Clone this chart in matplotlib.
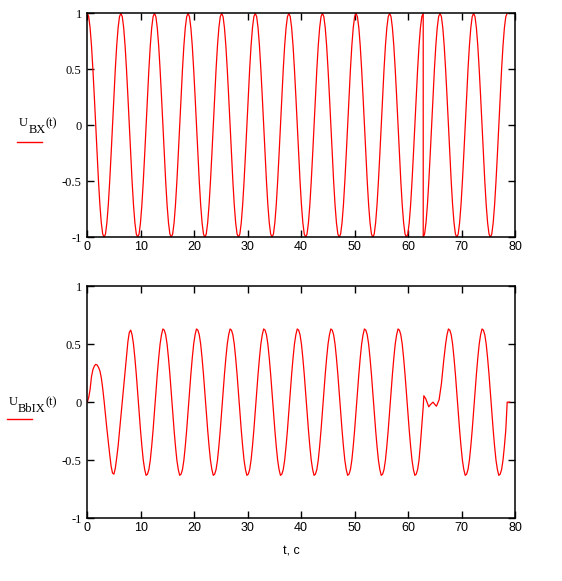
import numpy as np
import matplotlib
matplotlib.use('Agg')
from matplotlib import pyplot as plt
from matplotlib.lines import Line2D

plt.rcParams['axes.unicode_minus'] = False

# curves at a step of pi/12 in t
step = np.pi / 12

# U_BX(t) - input, k = 0..240 (t up to 20*pi)
u_in_a = [1, .97, .87, .71, .5, .26, 0, -.26, -.5, -.71, -.87, -.97, -1, -.97, -.87, -.71, -.5, -.26, 0, .26, .5, .71, .87, .97,
          1, .97, .87, .71, .5, .26, 0, -.26, -.5, -.71, -.87, -.97, -1, -.97, -.87, -.71, -.5, -.26, 0, .26, .5, .71, .87, .97,
          1, .97, .87, .71, .5, .26, 0, -.26, -.5, -.71, -.87, -.97, -1, -.97, -.87, -.71, -.5, -.26, 0, .26, .5, .71, .87, .97,
          1, .97, .87, .71, .5, .26, 0, -.26, -.5, -.71, -.87, -.97, -1, -.97, -.87, -.71, -.5, -.26, 0, .26, .5, .71, .87, .97,
          1, .97, .87, .71, .5, .26, 0, -.26, -.5, -.71, -.87, -.97, -1, -.97, -.87, -.71, -.5, -.26, 0, .26, .5, .71, .87, .97,
          1, .97, .87, .71, .5, .26, 0, -.26, -.5, -.71, -.87, -.97, -1, -.97, -.87, -.71, -.5, -.26, 0, .26, .5, .71, .87, .97,
          1, .97, .87, .71, .5, .26, 0, -.26, -.5, -.71, -.87, -.97, -1, -.97, -.87, -.71, -.5, -.26, 0, .26, .5, .71, .87, .97,
          1, .97, .87, .71, .5, .26, 0, -.26, -.5, -.71, -.87, -.97, -1, -.97, -.87, -.71, -.5, -.26, 0, .26, .5, .71, .87, .97,
          1, .97, .87, .71, .5, .26, 0, -.26, -.5, -.71, -.87, -.97, -1, -.97, -.87, -.71, -.5, -.26, 0, .26, .5, .71, .87, .97,
          1, .97, .87, .71, .5, .26, 0, -.26, -.5, -.71, -.87, -.97, -1, -.97, -.87, -.71, -.5, -.26, 0, .26, .5, .71, .87, .97,
          1]
# U_BX(t) after the phase flip, k = 240..300
u_in_b = [-1, -.97, -.87, -.71, -.5, -.26, 0, .26, .5, .71, .87, .97, 1, .97, .87, .71, .5, .26, 0, -.26, -.5, -.71, -.87, -.97,
          -1, -.97, -.87, -.71, -.5, -.26, 0, .26, .5, .71, .87, .97, 1, .97, .87, .71, .5, .26, 0, -.26, -.5, -.71, -.87, -.97,
          -1, -.97, -.87, -.71, -.5, -.26, 0, .26, .5, .71, .87, .97, 1]

# U_BbIX(t) - output, k = 0..240
u_out_a = [0.0, 0.04, 0.11, 0.22, 0.28, 0.31, 0.325, 0.32, 0.30, 0.27, 0.21, 0.12,
           0.01, -0.11, -0.23, -0.34, -0.45, -0.55, -0.61, -0.62, -0.57, -0.48, -0.38, -0.25,
           -0.12, 0.0, 0.13, 0.27, 0.40, 0.52, 0.60, 0.62, 0.58, 0.50, 0.38, 0.24,
           0.08, -0.08, -0.24, -0.38, -0.50, -0.58, -0.63, -0.62, -0.58, -0.50, -0.38, -0.24,
           -0.08, 0.08, 0.24, 0.38, 0.50, 0.58, 0.63, 0.62, 0.58, 0.50, 0.38, 0.24, 0.08, -0.08, -0.24, -0.38, -0.50, -0.58, -0.63, -0.62, -0.58, -0.50, -0.38, -0.24,
           -0.08, 0.08, 0.24, 0.38, 0.50, 0.58, 0.63, 0.62, 0.58, 0.50, 0.38, 0.24, 0.08, -0.08, -0.24, -0.38, -0.50, -0.58, -0.63, -0.62, -0.58, -0.50, -0.38, -0.24,
           -0.08, 0.08, 0.24, 0.38, 0.50, 0.58, 0.63, 0.62, 0.58, 0.50, 0.38, 0.24, 0.08, -0.08, -0.24, -0.38, -0.50, -0.58, -0.63, -0.62, -0.58, -0.50, -0.38, -0.24,
           -0.08, 0.08, 0.24, 0.38, 0.50, 0.58, 0.63, 0.62, 0.58, 0.50, 0.38, 0.24, 0.08, -0.08, -0.24, -0.38, -0.50, -0.58, -0.63, -0.62, -0.58, -0.50, -0.38, -0.24,
           -0.08, 0.08, 0.24, 0.38, 0.50, 0.58, 0.63, 0.62, 0.58, 0.50, 0.38, 0.24, 0.08, -0.08, -0.24, -0.38, -0.50, -0.58, -0.63, -0.62, -0.58, -0.50, -0.38, -0.24,
           -0.08, 0.08, 0.24, 0.38, 0.50, 0.58, 0.63, 0.62, 0.58, 0.50, 0.38, 0.24, 0.08, -0.08, -0.24, -0.38, -0.50, -0.58, -0.63, -0.62, -0.58, -0.50, -0.38, -0.24,
           -0.08, 0.08, 0.24, 0.38, 0.50, 0.58, 0.63, 0.62, 0.58, 0.50, 0.38, 0.24, 0.08, -0.08, -0.24, -0.38, -0.50, -0.58, -0.63, -0.62, -0.58, -0.50, -0.38, -0.24,
           -0.08, 0.08, 0.24, 0.38, 0.50, 0.58, 0.63, 0.62, 0.58, 0.50, 0.38, 0.24, 0.08, -0.08, -0.24, -0.38, -0.50, -0.58, -0.63, -0.62, -0.58, -0.50, -0.36, -0.20,
           -0.04]
# transient right after the flip
t_out_mid = [62.95, 63.3, 63.87, 64.2, 64.67, 65.0, 65.3, 65.8, 66.24, 66.67]
u_out_mid = [0.055, 0.03, -0.04, -0.02, 0.0, -0.02, -0.035, 0.02, 0.16, 0.36]
# output after the transient, k = 256..300
u_out_b = [0.50, 0.58, 0.63, 0.62, 0.58, 0.50, 0.38, 0.24,
           0.08, -0.08, -0.24, -0.38, -0.50, -0.58, -0.63, -0.62, -0.58, -0.50, -0.38, -0.24, -0.08, 0.08, 0.24, 0.38, 0.50, 0.58, 0.63, 0.62, 0.58, 0.50, 0.38, 0.24,
           0.08, -0.08, -0.24, -0.38, -0.50, -0.58, -0.63, -0.62, -0.58, -0.50, -0.38, -0.24, 0.0]
t_out_end = [79.0]
u_out_end = [0.0]

x_ticks = [0, 10, 20, 30, 40, 50, 60, 70, 80]
y_ticks = [-1, -0.5, 0, 0.5, 1]
y_labels = ['-1', '-0.5', '0', '0.5', '1']

t_in = np.concatenate([np.arange(len(u_in_a)) * step,
                       (240 + np.arange(len(u_in_b))) * step])
u_in = np.concatenate([u_in_a, u_in_b])
t_out = np.concatenate([np.arange(len(u_out_a)) * step, t_out_mid,
                        (256 + np.arange(len(u_out_b))) * step, t_out_end])
u_out = np.concatenate([u_out_a, u_out_mid, u_out_b, u_out_end])

W, H = 562, 581
fig = plt.figure(figsize=(W / 100, H / 100), dpi=100)

serif = ['Liberation Serif', 'DejaVu Serif']
sans = ['Liberation Sans Narrow', 'Liberation Sans', 'DejaVu Sans']

def fx(px):
    return px / W

def fy(py):
    return 1 - py / H

def setup(ax):
    ax.set_xlim(0, 80)
    ax.set_ylim(-1, 1)
    ax.set_xticks(x_ticks)
    ax.set_xticklabels([str(v) for v in x_ticks], fontfamily=sans, fontsize=9)
    ax.set_yticks(y_ticks)
    ax.set_yticklabels(y_labels, fontfamily=serif, fontsize=9)
    ax.tick_params(direction='in', top=True, right=True, length=5, width=1,
                   color='black')
    ax.tick_params(axis='x', pad=3)
    ax.tick_params(axis='y', pad=4)
    for s in ax.spines.values():
        s.set_linewidth(1.1)

def ylab(sub, base_y, right_x, line_x, line_y):
    # label like U_BX(t) with a red legend dash under it
    kw = dict(fontfamily=serif, fontsize=9, color='black')
    t3 = fig.text(fx(right_x), fy(base_y), '(t)', ha='right', va='baseline', **kw)
    t2 = plt.annotate(sub, xy=(0, 0), xycoords=t3, xytext=(-0.3, -4.8),
                      textcoords='offset points', ha='right', va='bottom', **kw)
    plt.annotate('U', xy=(0, 0), xycoords=t2, xytext=(-0.3, 4.8),
                 textcoords='offset points', ha='right', va='bottom', **kw)
    fig.add_artist(Line2D([fx(line_x), fx(line_x + 24.4)], [fy(line_y)] * 2,
                          color='#ff0000', lw=1.0))

ax1 = fig.add_axes([fx(87.3), fy(237.3), fx(515 - 87.3), (237.3 - 13.3) / H])
ax1.plot(t_in, u_in, color='#ff0000', lw=0.9)
setup(ax1)

ax2 = fig.add_axes([fx(87.3), fy(518.3), fx(515 - 87.3), (518.3 - 286) / H])
ax2.plot(t_out, u_out, color='#ff0000', lw=0.9)
setup(ax2)

ylab('BX', 126.5, 57.5, 17.3, 142.3)
ylab('BbIX', 405.0, 57.5, 7.3, 419.0)

fig.text(fx(291), fy(555), 't, c', ha='center', va='baseline',
         fontfamily=sans, fontsize=9)

fig.savefig('out.png', dpi=100)
